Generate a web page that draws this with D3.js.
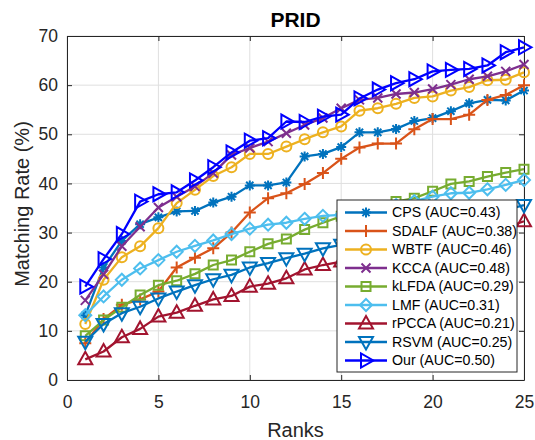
<!DOCTYPE html>
<html>
<head>
<meta charset="utf-8">
<script src="https://cdn.jsdelivr.net/npm/d3@7"></script>
<style>
  html, body { margin: 0; padding: 0; background: #fff; }
  svg { display: block; font-family: "Liberation Sans", Arial, Helvetica, sans-serif; }
</style>
</head>
<body>
<svg id="chart" width="535" height="440"></svg>
<script>
// ---------------- data ----------------
const ranks = [1,2,3,4,5,6,7,8,9,10,11,12,13,14,15,16,17,18,19,20,21,22,23,24,25];
const xTicks = [0,5,10,15,20,25];
const yTicks = [0,10,20,30,40,50,60,70];
const seriesNames = ["CPS (AUC=0.43)","SDALF (AUC=0.38)","WBTF (AUC=0.46)","KCCA (AUC=0.48)","kLFDA (AUC=0.29)","LMF (AUC=0.31)","rPCCA (AUC=0.21)","RSVM (AUC=0.25)","Our (AUC=0.50)"];
const cps   = [13.2,22.9,28.3,31.7,33.1,34.3,34.4,36.1,37.3,39.6,39.6,40.2,45.5,46.0,47.4,50.4,50.4,51.1,52.7,53.3,54.7,56.3,57.0,56.9,58.9];
const sdalf = [7.5,12.4,15.3,16.4,18.0,22.9,24.9,26.8,30.0,34.1,37.0,38.0,39.9,42.1,45.0,47.3,48.1,48.1,51.0,53.1,53.1,54.0,57.0,58.0,60.0];
const wbtf  = [11.4,20.4,25.0,27.2,30.9,36.0,38.7,41.5,43.3,46.0,46.0,47.5,49.0,50.4,51.6,54.8,55.3,56.2,57.4,57.7,58.9,59.6,61.0,61.1,62.6];
const kcca  = [16.2,21.5,27.2,31.2,35.1,37.3,39.4,42.1,45.8,47.2,48.5,50.2,51.9,53.3,55.3,57.0,57.4,58.2,58.5,59.2,60.1,61.2,61.8,62.8,64.2];
const klfda = [9.0,12.2,14.8,17.3,19.3,20.2,21.6,23.4,24.4,26.1,27.7,28.7,30.6,32.0,33.3,34.5,35.5,36.3,37.0,38.4,39.9,40.4,41.4,42.2,42.9];
const lmf   = [13.2,17.0,20.4,22.7,24.4,26.1,27.3,28.4,29.7,30.8,31.6,32.0,32.8,33.4,33.6,34.2,34.9,35.6,36.4,37.3,38.0,38.1,38.8,39.7,40.7];
const rpcca = [4.2,5.8,8.7,10.4,12.9,13.7,15.1,16.4,17.1,19.0,19.6,20.7,22.5,23.4,24.1,24.8,25.5,26.3,27.0,27.8,28.6,29.4,30.2,31.0,32.3];
const rsvm  = [7.8,11.4,13.6,14.9,16.6,18.0,19.3,20.5,21.4,22.9,23.8,24.8,25.7,26.8,27.5,28.3,29.0,29.8,30.6,31.5,32.3,33.0,33.8,34.6,35.6];
const ours  = [19.0,24.6,29.7,36.3,37.8,38.2,40.6,43.3,46.3,48.7,49.2,52.6,52.5,53.6,54.0,57.3,59.1,60.4,61.2,62.8,63.1,63.3,64.0,66.7,67.7];
const seriesColors = ["#0072BD","#D95319","#EDB120","#7E2F8E","#77AC30","#4DBEEE","#A2142F","#0072BD","#0000FF"];
const seriesMarkers = ["asterisk","plus","circle","x","square","diamond","triangleUp","triangleDown","triangleRight"];
const seriesValues = [cps, sdalf, wbtf, kcca, klfda, lmf, rpcca, rsvm, ours];

// ---------------- layout ----------------
const svg = d3.select("#chart");
const L = 67, R = 524, T = 36, B = 380;
const x = d3.scaleLinear().domain([0,25]).range([L,R]);
const y = d3.scaleLinear().domain([0,70]).range([B,T]);
const axisColor = "#262626";

// grid
const grid = svg.append("g");
grid.selectAll("line.gx").data(xTicks).enter().append("line")
  .attr("x1", d=>x(d)).attr("x2", d=>x(d)).attr("y1", T).attr("y2", B)
  .attr("stroke", "#dfdfdf").attr("stroke-width", 1);
grid.selectAll("line.gy").data(yTicks).enter().append("line")
  .attr("x1", L).attr("x2", R).attr("y1", d=>y(d)).attr("y2", d=>y(d))
  .attr("stroke", "#dfdfdf").attr("stroke-width", 1);

// axes
function styleAxis(g){
  g.selectAll("path.domain").attr("stroke", axisColor).attr("stroke-width", 1);
  g.selectAll(".tick line").attr("stroke", axisColor);
  g.selectAll(".tick text").attr("fill", "#262626").attr("font-size", 17.5)
   .attr("font-family", "Liberation Sans, Arial, sans-serif");
}
svg.append("g").attr("transform", `translate(0,${B})`)
  .call(d3.axisBottom(x).tickValues(xTicks).tickSizeInner(-5).tickSizeOuter(0).tickPadding(16))
  .call(styleAxis);
svg.append("g").attr("transform", `translate(${L},0)`)
  .call(d3.axisLeft(y).tickValues(yTicks).tickSizeInner(-5).tickSizeOuter(0).tickPadding(9))
  .call(styleAxis);
svg.append("g").attr("transform", `translate(0,${T})`)
  .call(d3.axisTop(x).tickValues(xTicks).tickSizeInner(-5).tickSizeOuter(0).tickFormat(""))
  .call(styleAxis);
svg.append("g").attr("transform", `translate(${R},0)`)
  .call(d3.axisRight(y).tickValues(yTicks).tickSizeInner(-5).tickSizeOuter(0).tickFormat(""))
  .call(styleAxis);

// labels
svg.append("text").attr("x", (L+R)/2).attr("y", 27).attr("text-anchor","middle")
  .attr("font-size", 21).attr("font-weight","bold").attr("fill","#000").text("PRID");
svg.append("text").attr("x", (L+R)/2).attr("y", 437).attr("text-anchor","middle")
  .attr("font-size", 20).attr("fill","#262626").text("Ranks");
svg.append("text").attr("transform", `translate(29,204) rotate(-90)`).attr("text-anchor","middle")
  .attr("font-size", 20).attr("fill","#262626").text("Matching Rate (%)");

// markers
function markerPath(type){
  switch(type){
    case "asterisk": { const s=5, d=3.6;
      return `M${-s},0L${s},0M0,${-s}L0,${s}M${-d},${-d}L${d},${d}M${-d},${d}L${d},${-d}`; }
    case "plus": { const s=6; return `M${-s},0L${s},0M0,${-s}L0,${s}`; }
    case "x": { const s=4.5; return `M${-s},${-s}L${s},${s}M${-s},${s}L${s},${-s}`; }
    case "circle": { const r=5; return `M${r},0A${r},${r} 0 1,1 ${-r},0A${r},${r} 0 1,1 ${r},0Z`; }
    case "square": { const s=4.5; return `M${-s},${-s}L${s},${-s}L${s},${s}L${-s},${s}Z`; }
    case "diamond": { const s=6; return `M0,${-s}L${s},0L0,${s}L${-s},0Z`; }
    case "triangleUp": return "M0,-7.5L7,5L-7,5Z";
    case "triangleDown": return "M0,7.5L7,-5L-7,-5Z";
    case "triangleRight": return "M7.5,0L-5,-7L-5,7Z";
  }
}

const line = d3.line().x(d=>x(d[0])).y(d=>y(d[1]));
seriesValues.forEach((vals, i) => {
  const pts = ranks.map((r, j) => [r, vals[j]]);
  const g = svg.append("g");
  g.append("path").datum(pts).attr("d", line).attr("fill","none")
    .attr("stroke", seriesColors[i]).attr("stroke-width", 2.3).attr("stroke-linejoin","round");
  g.selectAll("path.m").data(pts).enter().append("path").attr("class","m")
    .attr("transform", d=>`translate(${x(d[0])},${y(d[1])})`)
    .attr("d", markerPath(seriesMarkers[i])).attr("fill","none")
    .attr("stroke", seriesColors[i]).attr("stroke-width", 2);
});

// legend
const lg = svg.append("g");
const lx = 337, ly = 200, lw = 180, lh = 172;
lg.append("rect").attr("x", lx).attr("y", ly).attr("width", lw).attr("height", lh)
  .attr("fill","#fff").attr("stroke", axisColor).attr("stroke-width", 1);
seriesNames.forEach((name, i) => {
  const yy = 212.5 + i*18.5;
  lg.append("line").attr("x1", 345).attr("x2", 387).attr("y1", yy).attr("y2", yy)
    .attr("stroke", seriesColors[i]).attr("stroke-width", 2.3);
  lg.append("path").attr("transform", `translate(366,${yy})`).attr("d", markerPath(seriesMarkers[i]))
    .attr("fill","none").attr("stroke", seriesColors[i]).attr("stroke-width", 2);
  lg.append("text").attr("x", 392).attr("y", yy).attr("dy","0.35em")
    .attr("font-size", 14.2).attr("fill","#000").text(name);
});
</script>
</body>
</html>
